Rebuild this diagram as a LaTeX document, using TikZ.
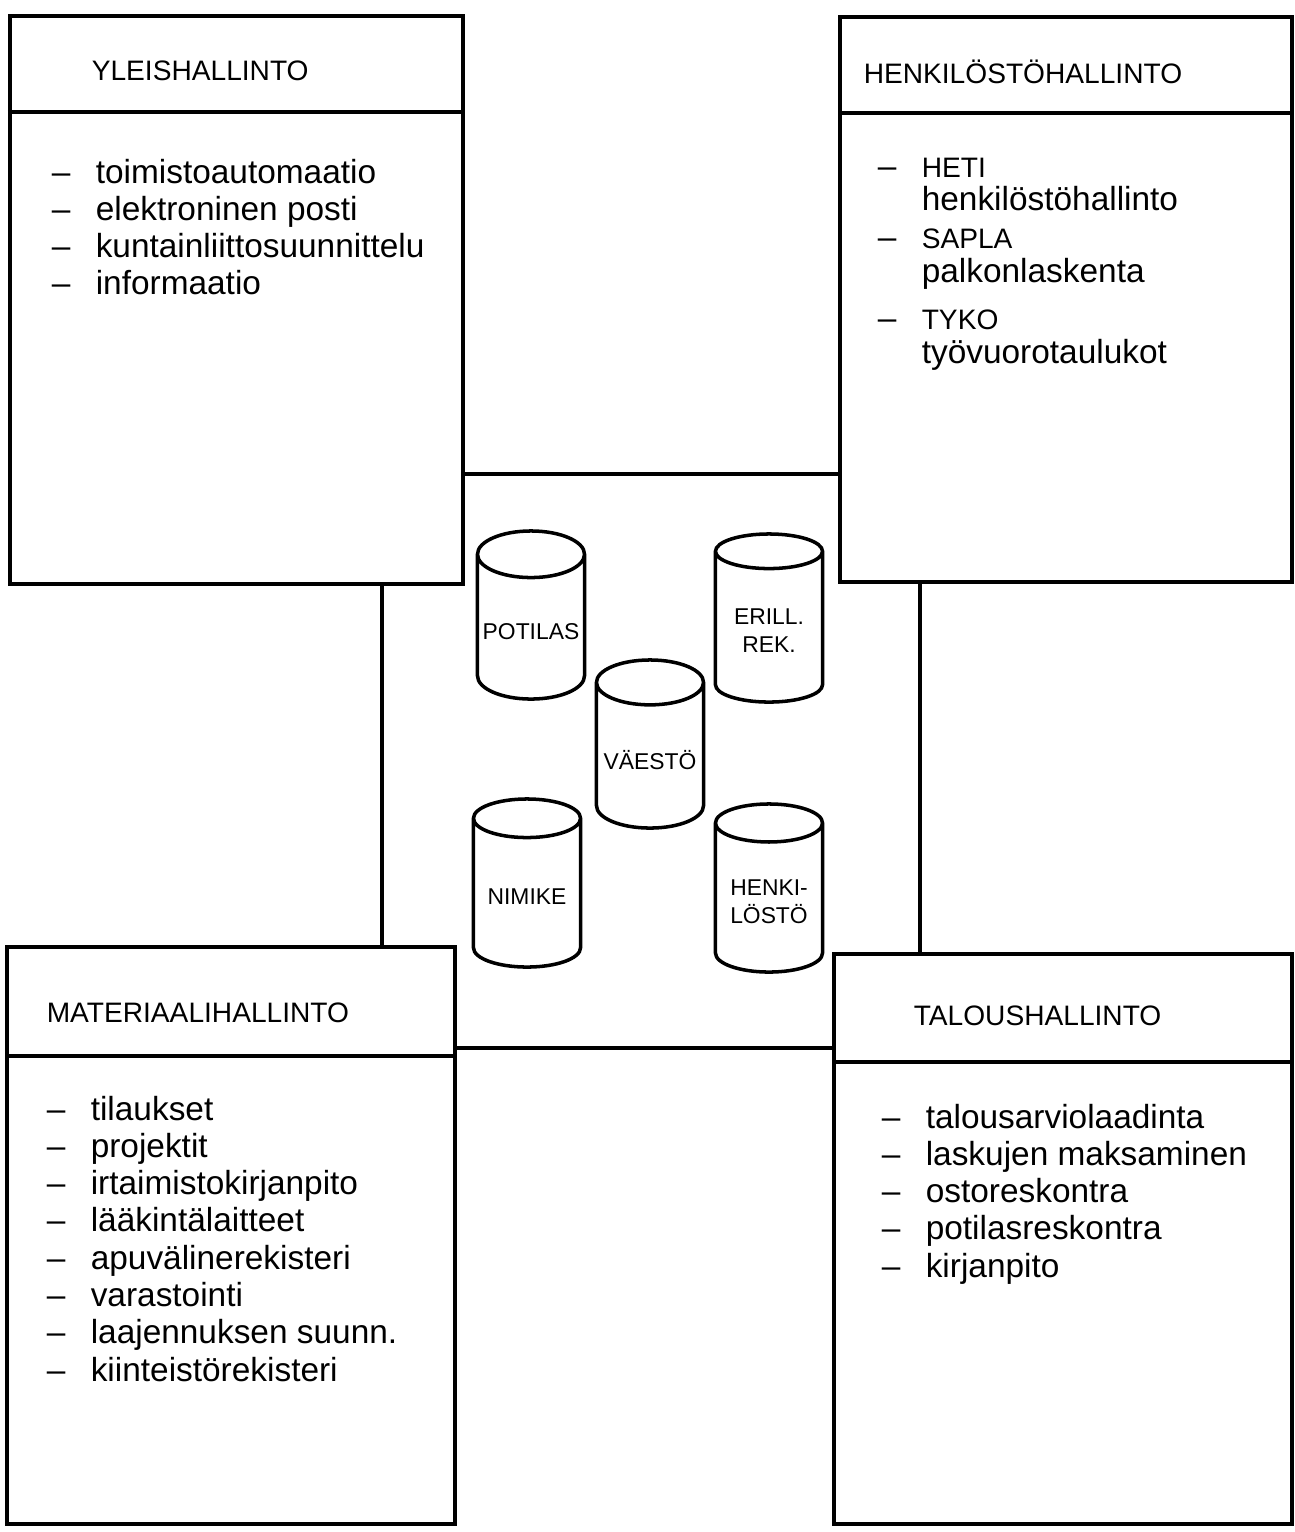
\documentclass[tikz,border=0pt]{standalone}
\usepackage{fontspec}
\setmainfont{Liberation Sans}
\usetikzlibrary{positioning, shapes.geometric}

\newcommand{\li}[1]{\makebox[0.44cm][l]{--}#1}
\newcommand{\ind}{\hspace*{0.44cm}}
\newcommand{\capsword}[1]{{\fontsize{8}{9.6}\selectfont #1}}

\begin{document}
\begin{tikzpicture}[x=0.01cm, y=-0.01cm, line width=1pt,
  box/.style={draw, fill=white, anchor=north west, inner sep=0pt},
  title/.style={anchor=base west, inner sep=0pt, font=\fontsize{8}{10}\selectfont},
  itemlist/.style={anchor=north west, inner sep=0pt, align=left, font=\fontsize{9.5}{10.6}\selectfont},
  db/.style={draw, fill=white, cylinder, shape border rotate=90, aspect=0.45, anchor=shape center,
    minimum width=1.07cm, minimum height=1.68cm, inner sep=1pt, align=center, font=\fontsize{6.5}{8}\selectfont}]
  \useasboundingbox (0,0) rectangle (1295,1532);

  % Shared registers area
  \node[draw, minimum width=5.38cm, minimum height=5.74cm, inner sep=0pt, anchor=north west] (hub) at (380,472) {};

  % Yleishallinto
  \node[box, minimum width=4.53cm, minimum height=5.68cm] (yleis) at (8,14) {};
  \draw ([yshift=-0.98cm]yleis.north west) -- ([yshift=-0.98cm]yleis.north east);
  \node[title] (yleisT) at ([xshift=0.82cm, yshift=-0.66cm]yleis.north west) {YLEISHALLINTO};
  \node[itemlist] (yleisL) at ([xshift=0.42cm, yshift=-1.43cm]yleis.north west)
    {\li{toimistoautomaatio}\\ \li{elektroninen posti}\\ \li{kuntainliittosuunnittelu}\\ \li{informaatio}};

  % Henkilöstöhallinto
  \node[box, minimum width=4.52cm, minimum height=5.65cm] (henk) at (838,15) {};
  \draw ([yshift=-0.98cm]henk.north west) -- ([yshift=-0.98cm]henk.north east);
  \node[title] (henkT) at ([xshift=0.24cm, yshift=-0.68cm]henk.north west) {HENKILÖSTÖHALLINTO};
  \node[itemlist, font=\fontsize{9.5}{9.6}\selectfont] (henkL) at ([xshift=0.38cm, yshift=-1.41cm]henk.north west)
    {\li{\capsword{HETI}}\\ \ind henkilöstöhallinto\\[0.04cm] \li{\capsword{SAPLA}}\\ \ind palkonlaskenta\\[0.13cm]
     \li{\capsword{TYKO}}\\ \ind työvuorotaulukot};

  % Materiaalihallinto
  \node[box, minimum width=4.48cm, minimum height=5.77cm] (mater) at (5,945) {};
  \draw ([yshift=-1.11cm]mater.north west) -- ([yshift=-1.11cm]mater.north east);
  \node[title] (materT) at ([xshift=0.40cm, yshift=-0.77cm]mater.north west) {MATERIAALIHALLINTO};
  \node[itemlist] (materL) at ([xshift=0.40cm, yshift=-1.49cm]mater.north west)
    {\li{tilaukset}\\ \li{projektit}\\ \li{irtaimistokirjanpito}\\ \li{lääkintälaitteet}\\ \li{apuvälinerekisteri}\\
     \li{varastointi}\\ \li{laajennuksen suunn.}\\ \li{kiinteistörekisteri}};

  % Taloushallinto
  \node[box, minimum width=4.58cm, minimum height=5.70cm] (talous) at (832,952) {};
  \draw ([yshift=-1.10cm]talous.north west) -- ([yshift=-1.10cm]talous.north east);
  \node[title] (talousT) at ([xshift=0.80cm, yshift=-0.73cm]talous.north west) {TALOUSHALLINTO};
  \node[itemlist] (talousL) at ([xshift=0.48cm, yshift=-1.50cm]talous.north west)
    {\li{talousarviolaadinta}\\ \li{laskujen maksaminen}\\ \li{ostoreskontra}\\ \li{potilasreskontra}\\ \li{kirjanpito}};

  % Registers
  \node[db] (potilas) at (531,615) {POTILAS};
  \node[db] (erill) at (769,618) {ERILL.\\REK.};
  \node[db] (vaesto) at (650,744) {VÄESTÖ};
  \node[db] (nimike) at (527,883) {NIMIKE};
  \node[db] (henkrek) at (769,888) {HENKI-\\LÖSTÖ};
\end{tikzpicture}
\end{document}
